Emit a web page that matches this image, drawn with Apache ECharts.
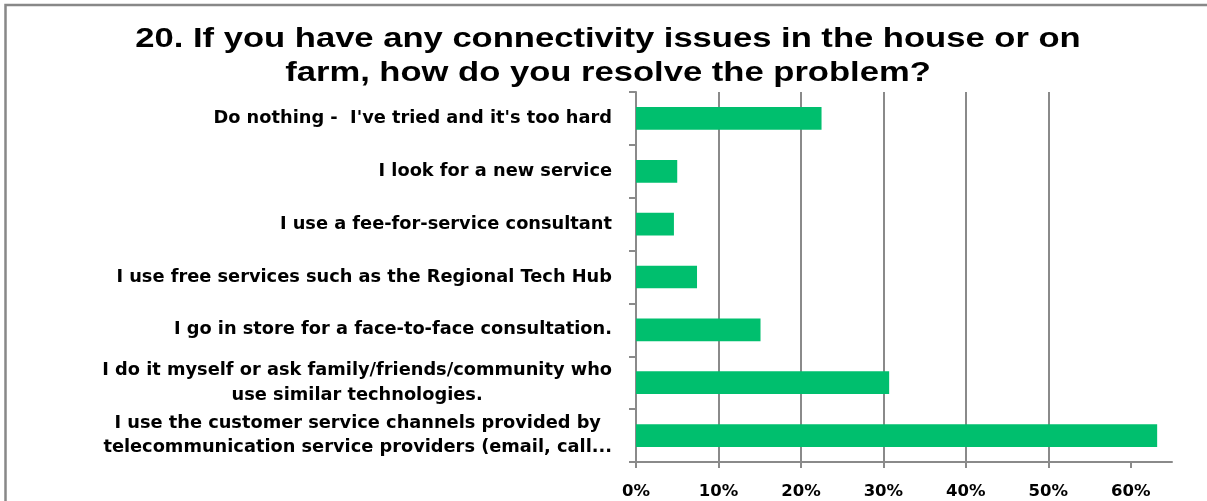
<!DOCTYPE html>
<html>
<head>
<meta charset="utf-8">
<script src="https://cdn.jsdelivr.net/npm/echarts@6/dist/echarts.min.js"></script>
<style>
  html, body { margin: 0; padding: 0; background: #ffffff; }
  #chart { width: 1207px; height: 501px; }
</style>
</head>
<body>
<div id="chart"></div>
<script>
// Survey question 20: how respondents resolve connectivity problems
const titleLines = [
  "20. If you have any connectivity issues in the house or on",
  "farm, how do you resolve the problem?"
];

const categories = [
  "Do nothing -  I've tried and it's too hard",
  "I look for a new service",
  "I use a fee-for-service consultant",
  "I use free services such as the Regional Tech Hub",
  "I go in store for a face-to-face consultation.",
  "I do it myself or ask family/friends/community who\nuse similar technologies.",
  "I use the customer service channels provided by\ntelecommunication service providers (email, call..."
];

// Share of respondents, percent
const responses = [22.5, 5.0, 4.6, 7.4, 15.1, 30.7, 63.2];

const tickValues = [0, 10, 20, 30, 40, 50, 60];
const axisMax = 65;

const labelFont = 'DejaVu Sans';
const lineColor = '#8a8a8a';

const chart = echarts.init(document.getElementById('chart'), null, { renderer: 'canvas' });

// Title lines drawn as wide bold text, horizontally stretched
const titleCenterX = 608;
const titleRowsY = [39, 73.5];
const titleGraphics = titleLines.map((line, i) => ({
  type: 'text',
  x: titleCenterX,
  y: titleRowsY[i],
  scaleX: 1.235,
  silent: true,
  style: {
    text: line,
    font: 'bold 28px "Liberation Sans", Arial, sans-serif',
    fill: '#000000',
    align: 'center',
    verticalAlign: 'middle'
  }
}));

chart.setOption({
  backgroundColor: '#ffffff',
  animation: false,
  graphic: [{
    type: 'rect',
    shape: { x: 5.5, y: 5, width: 1400, height: 700 },
    style: { fill: 'none', stroke: '#888888', lineWidth: 2.5 },
    silent: true
  }].concat(titleGraphics),
  grid: { left: 636, right: 35, top: 92, bottom: 39, containLabel: false },
  xAxis: {
    type: 'value',
    min: 0,
    max: axisMax,
    interval: 10,
    axisLine: { show: true, lineStyle: { color: lineColor, width: 2 } },
    axisTick: {
      show: true,
      length: 6,
      customValues: tickValues,
      lineStyle: { color: lineColor, width: 2 }
    },
    splitLine: {
      show: true,
      showMaxLine: false,
      lineStyle: { color: lineColor, width: 2 }
    },
    axisLabel: {
      customValues: tickValues,
      formatter: v => v + '%',
      margin: 21,
      fontFamily: labelFont,
      fontWeight: 'bold',
      fontSize: 16.5,
      color: '#000000'
    }
  },
  yAxis: {
    type: 'category',
    inverse: true,
    data: categories,
    axisLine: { show: true, lineStyle: { color: lineColor, width: 2 } },
    axisTick: { show: true, length: 7, lineStyle: { color: lineColor, width: 2 } },
    splitLine: { show: false },
    axisLabel: {
      margin: 24,
      align: 'right',
      formatter: v => v.split('\n').map(s => '{c|' + s + '}').join('\n'),
      rich: {
        c: {
          align: 'center',
          fontFamily: labelFont,
          fontWeight: 'bold',
          fontSize: 17.8,
          lineHeight: 24.5,
          color: '#000000'
        }
      }
    }
  },
  series: [{
    type: 'bar',
    data: responses,
    barWidth: '43%',
    itemStyle: { color: '#00BF6E' }
  }]
});
</script>
</body>
</html>
